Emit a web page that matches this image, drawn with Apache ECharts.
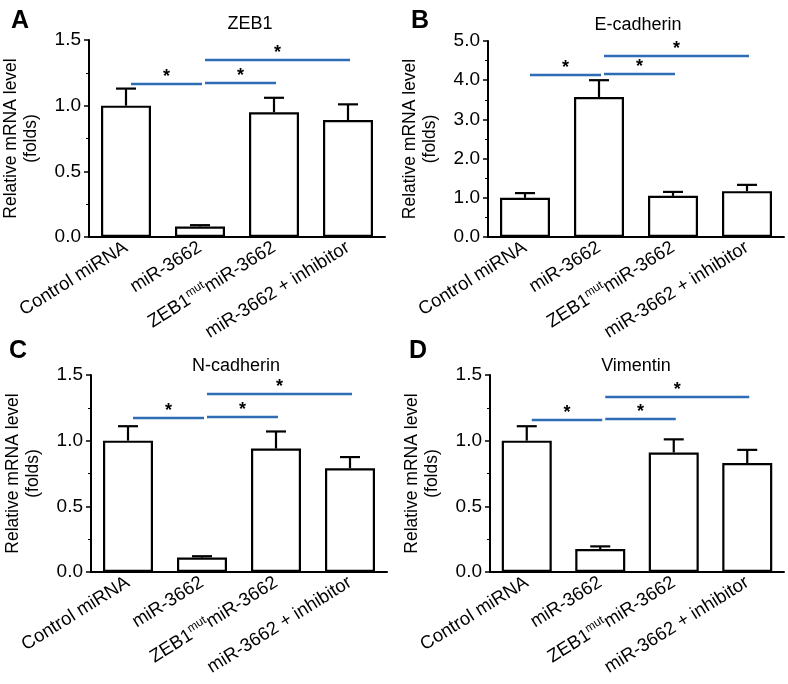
<!doctype html>
<html>
<head>
<meta charset="utf-8">
<title>mRNA levels</title>
<script src="https://cdn.jsdelivr.net/npm/echarts@6/dist/echarts.min.js"></script>
<style>
  html, body { margin: 0; padding: 0; background: #fff; }
  #main { width: 788px; height: 684px; }
</style>
</head>
<body>
<div id="main"></div>
<script>
var categories = ['Control miRNA', 'miR-3662', 'ZEB1mut miR-3662', 'miR-3662 + inhibitor'];

// panel values (mean, upper error)
var zeb1 = [1.0, 0.08, 0.95, 0.89];
var zeb1Err = [0.13, 0.01, 0.11, 0.12];
var ecad = [1.0, 3.57, 1.05, 1.17];
var ecadErr = [0.12, 0.43, 0.10, 0.16];
var ncad = [1.0, 0.11, 0.94, 0.79];
var ncadErr = [0.11, 0.01, 0.13, 0.085];
var vim = [1.0, 0.175, 0.91, 0.83];
var vimErr = [0.11, 0.02, 0.10, 0.10];

// significance bars: [from category, to category, level]
var zeb1Sig = [[0, 1, 1.165], [1, 2, 1.173], [1, 3, 1.348]];
var ecadSig = [[0, 1, 4.13], [1, 2, 4.16], [1, 3, 4.62]];
var ncadSig = [[0, 1, 1.173], [1, 2, 1.18], [1, 3, 1.356]];
var vimSig = [[0, 1, 1.158], [1, 2, 1.165], [1, 3, 1.333]];

var titles = ['ZEB1', 'E-cadherin', 'N-cadherin', 'Vimentin'];
var letters = ['A', 'B', 'C', 'D'];

var FONT = '"Liberation Sans", Arial, sans-serif';
var BLUE = '#2f6cb6';

var panels = [
  { vals: zeb1, err: zeb1Err, sig: zeb1Sig, max: 1.5, step: 0.5 },
  { vals: ecad, err: ecadErr, sig: ecadSig, max: 5, step: 1 },
  { vals: ncad, err: ncadErr, sig: ncadSig, max: 1.5, step: 0.5 },
  { vals: vim, err: vimErr, sig: vimSig, max: 1.5, step: 0.5 }
];

var grids = [
  { left: 89, top: 40, width: 296, height: 197 },
  { left: 488, top: 41, width: 296, height: 196 },
  { left: 91, top: 375, width: 296, height: 197 },
  { left: 490, top: 375, width: 294, height: 197 }
];

var titlePos = [[245, 10], [633, 11], [231, 352], [631, 352]];
var letterPos = [[6, 4], [406, 4], [4, 334], [404, 334]];

var xAxes = [], yAxes = [], series = [], titleList = [];

panels.forEach(function (p, k) {
  xAxes.push({
    type: 'category', gridIndex: k, data: categories,
    axisLine: { lineStyle: { color: '#000', width: 2 } },
    axisTick: { alignWithLabel: true, length: 5, lineStyle: { color: '#000', width: 1.5 } },
    axisLabel: {
      interval: 0, rotate: 32, margin: 9, color: '#000', fontSize: 18.5, fontFamily: FONT,
      formatter: function (v, i) {
        return i === 2 ? '{t|ZEB1}{s|mut}{t|miR-3662}' : v;
      },
      rich: {
        t: { fontSize: 18.5, fontFamily: FONT, color: '#000', lineHeight: 22 },
        s: { fontSize: 12, fontFamily: FONT, color: '#000', lineHeight: 22, verticalAlign: 'top', padding: [0, 0, 6, 0] }
      }
    }
  });
  yAxes.push({
    type: 'value', gridIndex: k, min: 0, max: p.max, interval: p.step,
    name: 'Relative mRNA level\n(folds)', nameLocation: 'middle', nameGap: 48,
    nameTextStyle: { color: '#000', fontSize: 17.5, fontFamily: FONT, lineHeight: 20 },
    axisLine: { show: true, lineStyle: { color: '#000', width: 2 } },
    axisTick: { show: true, length: 5, lineStyle: { color: '#000', width: 1.5 } },
    minorTick: { show: true, splitNumber: 2, length: 3, lineStyle: { color: '#000', width: 1 } },
    splitLine: { show: false },
    axisLabel: {
      color: '#000', fontSize: 19, fontFamily: FONT, margin: 8,
      formatter: function (v) { return v.toFixed(1); }
    }
  });

  series.push({
    type: 'bar', xAxisIndex: k, yAxisIndex: k, data: p.vals, barWidth: 50,
    itemStyle: { color: '#fff', borderColor: '#000', borderWidth: 2.2 },
    silent: true, z: 2
  });

  series.push({
    type: 'custom', xAxisIndex: k, yAxisIndex: k, z: 1,
    data: p.vals.map(function (v, i) { return [i, v, v + p.err[i]]; }),
    renderItem: function (params, api) {
      var lo = api.coord([api.value(0), api.value(1)]);
      var hi = api.coord([api.value(0), api.value(2)]);
      var st = { stroke: '#000', lineWidth: 2.2 };
      return {
        type: 'group', children: [
          { type: 'line', shape: { x1: lo[0], y1: lo[1], x2: hi[0], y2: hi[1] }, style: st },
          { type: 'line', shape: { x1: hi[0] - 10, y1: hi[1], x2: hi[0] + 10, y2: hi[1] }, style: st }
        ]
      };
    }
  });

  series.push({
    type: 'custom', xAxisIndex: k, yAxisIndex: k, z: 3,
    data: p.sig,
    renderItem: function (params, api) {
      var a = api.coord([api.value(0), api.value(2)]);
      var b = api.coord([api.value(1), api.value(2)]);
      var x1 = a[0] + 5, x2 = b[0] + 2, y = a[1];
      return {
        type: 'group', children: [
          { type: 'line', shape: { x1: x1, y1: y, x2: x2, y2: y }, style: { stroke: BLUE, lineWidth: 2.5 } },
          { type: 'text', x: (x1 + x2) / 2, y: y - 7,
            style: { text: '*', fill: '#000', font: 'bold 18px ' + FONT, align: 'center', verticalAlign: 'middle' } }
        ]
      };
    }
  });

  titleList.push({
    text: titles[k], left: titlePos[k][0], top: titlePos[k][1], textAlign: 'center',
    textStyle: { color: '#000', fontSize: 18, fontWeight: 'normal', fontFamily: FONT }
  });
  titleList.push({
    text: letters[k], left: letterPos[k][0], top: letterPos[k][1],
    textStyle: { color: '#000', fontSize: 25, fontWeight: 'bold', fontFamily: FONT }
  });
});

var chart = echarts.init(document.getElementById('main'));
chart.setOption({
  animation: false,
  backgroundColor: '#fff',
  title: titleList,
  grid: grids,
  xAxis: xAxes,
  yAxis: yAxes,
  series: series
});
</script>
</body>
</html>
